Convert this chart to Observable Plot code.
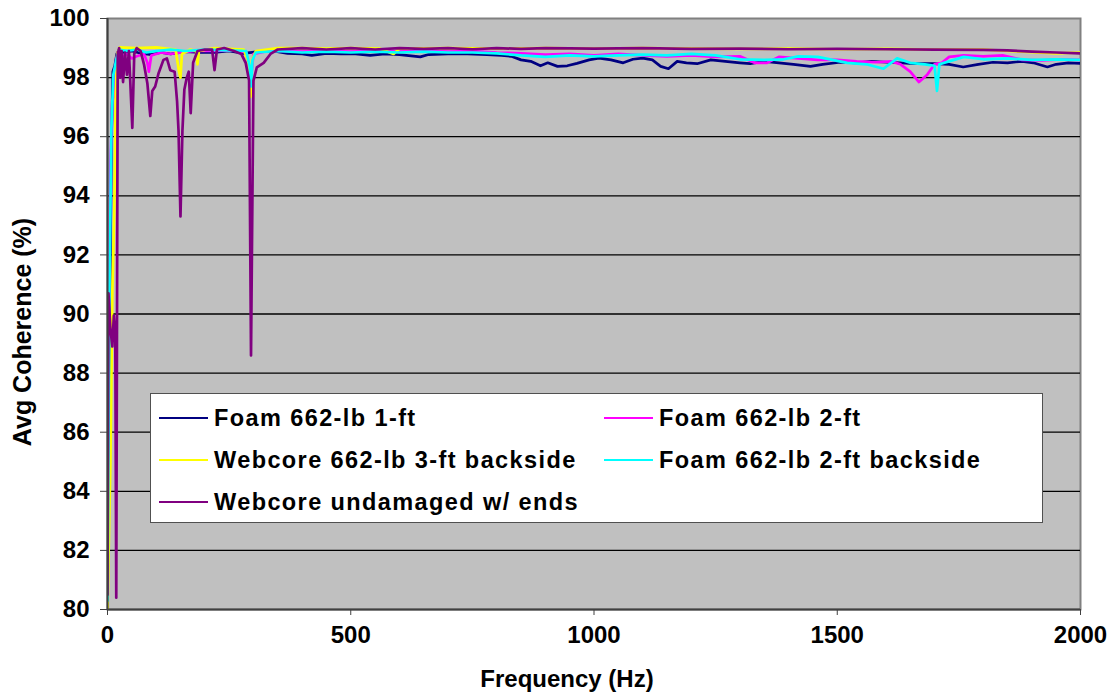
<!DOCTYPE html>
<html>
<head>
<meta charset="utf-8">
<script src="https://cdn.jsdelivr.net/npm/d3@7"></script>
<script src="https://cdn.jsdelivr.net/npm/@observablehq/plot@0.6"></script>
<style>
  body { margin: 0; background: #fff; }
  #wrap { position: relative; width: 1114px; height: 696px; font-family: "Liberation Sans", Arial, sans-serif; }
  #legend { position: absolute; left: 150px; top: 393px; width: 893px; height: 130px; background: #fff;
            border: 1.5px solid #505050; box-sizing: border-box; }
  .item { position: absolute; height: 30px; display: flex; align-items: center; }
  .sw { width: 49px; height: 2px; margin-right: 6px; }
  .lab { font-size: 23.5px; font-weight: bold; letter-spacing: 1.4px; color: #000; white-space: nowrap; }
</style>
</head>
<body>
<div id="wrap"></div>
<script>
// ---- data ----
const seriesNames = [
  "Foam 662-lb 1-ft",
  "Foam 662-lb 2-ft",
  "Webcore 662-lb 3-ft backside",
  "Foam 662-lb 2-ft backside",
  "Webcore undamaged w/ ends"
];
const seriesColors = ["#000080", "#ff00ff", "#ffff00", "#00ffff", "#800080"];
const xTicks = [0, 500, 1000, 1500, 2000];
const yTicks = [80, 82, 84, 86, 88, 90, 92, 94, 96, 98, 100];

// [frequency (Hz), avg coherence (%)]
const foam1ft = [[0,80.2],[4,88.5],[8,95.8],[11,98.2],[15,98.4],[19,98.8],[24,98.95],[35,98.85],[50,98.9],[70,98.82],[90,98.78],[110,98.85],[130,98.8],[160,98.88],[190,98.85],[220,98.85],[250,98.9],[280,98.82],[310,98.88],[340,98.9],[370,98.82],[400,98.8],[420,98.75],[450,98.82],[480,98.8],[510,98.8],[540,98.75],[570,98.8],[600,98.78],[643,98.7],[660,98.78],[700,98.8],[740,98.8],[780,98.78],[810,98.75],[830,98.72],[850,98.6],[870,98.55],[890,98.4],[905,98.5],[925,98.38],[945,98.4],[965,98.48],[990,98.6],[1010,98.66],[1035,98.6],[1060,98.5],[1080,98.62],[1100,98.66],[1120,98.6],[1137,98.38],[1153,98.3],[1171,98.55],[1190,98.5],[1212,98.47],[1240,98.6],[1270,98.55],[1300,98.5],[1321,98.47],[1350,98.55],[1380,98.5],[1410,98.45],[1445,98.38],[1470,98.45],[1506,98.52],[1540,98.5],[1570,98.55],[1603,98.52],[1630,98.5],[1660,98.47],[1697,98.47],[1730,98.45],[1759,98.36],[1790,98.45],[1820,98.52],[1850,98.5],[1880,98.55],[1903,98.5],[1932,98.36],[1950,98.45],[1975,98.5],[2000,98.48]];

const foam2ft = [[0,84],[6,95],[10,97.2],[14,97.4],[18,98.6],[22,98.9],[30,98.7],[40,98.8],[50,98.65],[60,98.72],[75,98.8],[82,98.5],[85,98.2],[90,98.75],[110,98.85],[130,98.8],[150,98.85],[180,98.9],[220,98.9],[260,98.92],[285,98.85],[294,97.8],[300,98.8],[330,98.9],[350,98.9],[400,98.88],[450,98.9],[500,98.88],[550,98.9],[600,98.88],[650,98.9],[700,98.88],[750,98.9],[800,98.85],[850,98.82],[900,98.78],[950,98.8],[1000,98.75],[1050,98.8],[1100,98.75],[1150,98.72],[1200,98.75],[1250,98.7],[1300,98.72],[1330,98.5],[1356,98.5],[1380,98.7],[1420,98.65],[1460,98.6],[1500,98.6],[1540,98.55],[1580,98.52],[1610,98.55],[1630,98.45],[1650,98.2],[1668,97.85],[1685,98.1],[1700,98.45],[1715,98.5],[1730,98.7],[1760,98.75],[1800,98.72],[1840,98.75],[1880,98.6],[1920,98.58],[1960,98.62],[2000,98.6]];

const webcore3ft = [[0,80],[6,85],[10,90.8],[14,93.5],[17,97.5],[20,98.8],[25,99.02],[60,99.0],[100,99.02],[140,98.95],[147,98.2],[150,98.0],[153,98.8],[170,98.95],[182,98.9],[185,98.45],[188,98.9],[220,99.0],[280,98.95],[290,98.5],[294,97.35],[297,98.6],[305,98.9],[350,99.0],[400,99.0],[450,98.98],[500,99.0],[560,98.98],[588,98.8],[600,98.98],[700,99.0],[800,98.98],[900,99.0],[1000,98.98],[1100,99.0],[1200,98.98],[1300,98.97],[1400,98.98],[1500,98.96],[1600,98.97],[1700,98.95],[1800,98.95],[1850,98.9],[1900,98.86],[1950,98.82],[2000,98.85]];

const foam2ftBack = [[0,80.3],[4,90.8],[8,96.3],[12,98.1],[18,98.6],[24,98.95],[40,98.9],[60,98.95],[80,98.85],[100,98.9],[130,98.95],[160,98.9],[200,98.95],[250,98.92],[285,98.9],[292,98.4],[295,97.7],[298,98.6],[305,98.85],[350,98.9],[400,98.85],[450,98.88],[500,98.85],[550,98.88],[600,98.85],[650,98.88],[700,98.85],[750,98.85],[800,98.82],[850,98.75],[900,98.7],[950,98.75],[1000,98.72],[1050,98.75],[1100,98.78],[1150,98.75],[1200,98.8],[1250,98.75],[1300,98.62],[1350,98.6],[1390,98.62],[1420,98.72],[1460,98.7],[1490,98.6],[1520,98.5],[1560,98.45],[1595,98.3],[1623,98.65],[1650,98.5],[1680,98.45],[1700,98.4],[1705,97.55],[1710,98.45],[1740,98.6],[1760,98.7],[1800,98.62],[1850,98.65],[1900,98.6],[1950,98.62],[2000,98.6]];

const webcoreUndamaged = [[0,80.5],[2,90.7],[6,89.5],[10,88.9],[13,89.95],[16,89.3],[18,80.4],[21,98.8],[24,99.0],[26,98.0],[29,98.9],[32,97.85],[36,98.85],[40,98.1],[44,98.9],[51,96.3],[55,98.8],[60,99.0],[68,98.9],[75,98.45],[82,97.8],[88,96.7],[92,97.55],[98,97.7],[105,98.15],[115,98.6],[122,98.65],[129,98.25],[138,98.2],[143,97.2],[146,96.2],[150,93.3],[154,96.2],[158,97.6],[163,98.0],[167,98.2],[171,96.8],[176,98.5],[185,98.9],[200,98.95],[215,98.95],[220,98.25],[225,98.95],[240,99.0],[260,98.9],[275,98.8],[284,98.5],[291,97.9],[295,88.6],[300,97.9],[307,98.35],[321,98.5],[335,98.8],[350,98.95],[400,99.0],[450,98.95],[500,99.0],[550,98.95],[600,99.0],[650,98.97],[700,99.0],[750,98.96],[800,99.0],[850,98.97],[900,99.0],[1000,98.98],[1100,99.0],[1200,98.97],[1300,98.98],[1400,98.96],[1500,98.97],[1600,98.96],[1700,98.95],[1800,98.94],[1850,98.92],[1900,98.88],[1950,98.85],[2000,98.82]];

const allSeries = [foam1ft, foam2ft, webcore3ft, foam2ftBack, webcoreUndamaged];
const rows = allSeries.flatMap((s, i) => s.map(([f, v]) => ({f, v, name: seriesNames[i]})));

const font = '"Liberation Sans", Arial, sans-serif';

const chart = Plot.plot({
  width: 1114,
  height: 696,
  marginLeft: 107,
  marginRight: 34,
  marginTop: 18,
  marginBottom: 87,
  x: {domain: [0, 2000]},
  y: {domain: [80, 100]},
  color: {domain: seriesNames, range: seriesColors},
  style: {fontFamily: font, fontSize: "24px", fontWeight: "bold", color: "#000", background: "#fff", overflow: "visible"},
  marks: [
    Plot.frame({fill: "#c0c0c0", stroke: "#808080", strokeWidth: 2}),
    Plot.ruleY(yTicks.filter(d => d > 80 && d < 100), {stroke: "#000", strokeWidth: 1.3}),
    Plot.line(rows, {x: "f", y: "v", z: "name", stroke: "name", strokeWidth: 2.7, clip: true}),
    Plot.ruleX([0], {stroke: "#404040", strokeWidth: 2}),
    Plot.ruleY([80], {stroke: "#404040", strokeWidth: 2}),
    Plot.axisY({ticks: yTicks, tickSize: 7, tickPadding: 11, label: null, stroke: "#404040", letterSpacing: 1.5, tickFormat: d => String(d)}),
    Plot.axisX({ticks: xTicks, tickSize: 6, tickPadding: 10, label: null, stroke: "#404040", letterSpacing: 2.2, tickFormat: d => String(d)}),
    Plot.text(["Frequency (Hz)"], {frameAnchor: "bottom", lineAnchor: "middle", textAnchor: "middle", dy: 70, dx: -27, fontSize: 24, fontWeight: "bold", fill: "#000", letterSpacing: 0.9}),
    Plot.text(["Avg Coherence (%)"], {frameAnchor: "left", lineAnchor: "middle", textAnchor: "middle", rotate: -90, dx: -85, dy: 18, fontSize: 25, fontWeight: "bold", fill: "#000", letterSpacing: 1.4})
  ]
});

const wrap = document.getElementById("wrap");
wrap.appendChild(chart);

// legend (inside plot area, as in reference)
const legend = document.createElement("div");
legend.id = "legend";
const pos = [[8, 9], [453, 9], [8, 51], [453, 51], [8, 93]];
seriesNames.forEach((n, i) => {
  const it = document.createElement("div");
  it.className = "item";
  it.style.left = pos[i][0] + "px";
  it.style.top = pos[i][1] + "px";
  const sw = document.createElement("div");
  sw.className = "sw";
  sw.style.background = seriesColors[i];
  const lab = document.createElement("span");
  lab.className = "lab";
  lab.textContent = n;
  it.appendChild(sw);
  it.appendChild(lab);
  legend.appendChild(it);
});
wrap.appendChild(legend);
</script>
</body>
</html>
